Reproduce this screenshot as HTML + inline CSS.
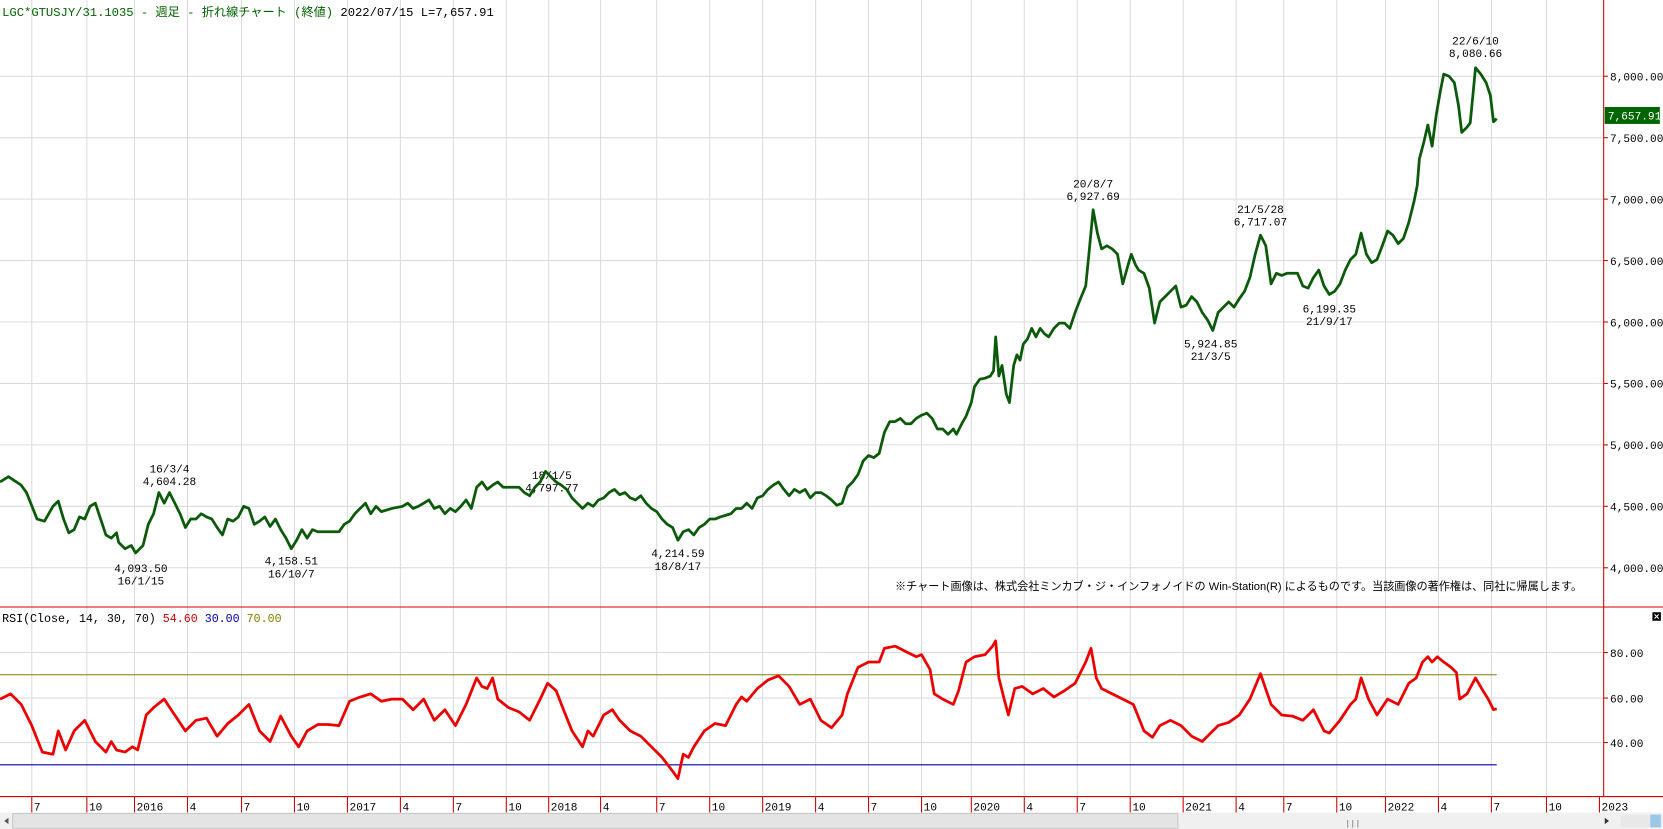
<!DOCTYPE html>
<html><head><meta charset="utf-8"><style>
html,body{margin:0;padding:0;background:#fff;overflow:hidden}
svg{display:block}
text{font-family:"Liberation Mono","Noto Sans CJK JP",monospace;font-size:10.5px}
</style></head><body>
<svg width="1663" height="829" viewBox="0 0 1570 782.6" preserveAspectRatio="none" xmlns="http://www.w3.org/2000/svg">
<rect width="1570" height="783" fill="#fff"/>
<g stroke="#dcdcdc" stroke-width="1">
<line x1="30" y1="0" x2="30" y2="752"/><line x1="82" y1="0" x2="82" y2="752"/><line x1="127" y1="0" x2="127" y2="752"/><line x1="177" y1="0" x2="177" y2="752"/><line x1="228" y1="0" x2="228" y2="752"/><line x1="278" y1="0" x2="278" y2="752"/><line x1="328" y1="0" x2="328" y2="752"/><line x1="378" y1="0" x2="378" y2="752"/><line x1="428" y1="0" x2="428" y2="752"/><line x1="478" y1="0" x2="478" y2="752"/><line x1="518" y1="0" x2="518" y2="752"/><line x1="567" y1="0" x2="567" y2="752"/><line x1="620" y1="0" x2="620" y2="752"/><line x1="670" y1="0" x2="670" y2="752"/><line x1="720" y1="0" x2="720" y2="752"/><line x1="770" y1="0" x2="770" y2="752"/><line x1="820" y1="0" x2="820" y2="752"/><line x1="870" y1="0" x2="870" y2="752"/><line x1="917" y1="0" x2="917" y2="752"/><line x1="967" y1="0" x2="967" y2="752"/><line x1="1017" y1="0" x2="1017" y2="752"/><line x1="1067" y1="0" x2="1067" y2="752"/><line x1="1117" y1="0" x2="1117" y2="752"/><line x1="1167" y1="0" x2="1167" y2="752"/><line x1="1212" y1="0" x2="1212" y2="752"/><line x1="1262" y1="0" x2="1262" y2="752"/><line x1="1308" y1="0" x2="1308" y2="752"/><line x1="1358" y1="0" x2="1358" y2="752"/><line x1="1408" y1="0" x2="1408" y2="752"/><line x1="1460" y1="0" x2="1460" y2="752"/>
<line x1="0" y1="72" x2="1514" y2="72"/><line x1="0" y1="130" x2="1514" y2="130"/><line x1="0" y1="188" x2="1514" y2="188"/><line x1="0" y1="246" x2="1514" y2="246"/><line x1="0" y1="304" x2="1514" y2="304"/><line x1="0" y1="362" x2="1514" y2="362"/><line x1="0" y1="420" x2="1514" y2="420"/><line x1="0" y1="478" x2="1514" y2="478"/><line x1="0" y1="536" x2="1514" y2="536"/>
<line x1="0" y1="616" x2="1514" y2="616"/><line x1="0" y1="659" x2="1514" y2="659"/><line x1="0" y1="701" x2="1514" y2="701"/>
</g>
<g stroke="#d00000" stroke-width="1">
<line x1="0" y1="573" x2="1570" y2="573"/><line x1="0" y1="752" x2="1570" y2="752"/><line x1="1514" y1="0" x2="1514" y2="752"/>
<line x1="30" y1="752" x2="30" y2="767"/><line x1="82" y1="752" x2="82" y2="767"/><line x1="127" y1="752" x2="127" y2="767"/><line x1="177" y1="752" x2="177" y2="767"/><line x1="228" y1="752" x2="228" y2="767"/><line x1="278" y1="752" x2="278" y2="767"/><line x1="328" y1="752" x2="328" y2="767"/><line x1="378" y1="752" x2="378" y2="767"/><line x1="428" y1="752" x2="428" y2="767"/><line x1="478" y1="752" x2="478" y2="767"/><line x1="518" y1="752" x2="518" y2="767"/><line x1="567" y1="752" x2="567" y2="767"/><line x1="620" y1="752" x2="620" y2="767"/><line x1="670" y1="752" x2="670" y2="767"/><line x1="720" y1="752" x2="720" y2="767"/><line x1="770" y1="752" x2="770" y2="767"/><line x1="820" y1="752" x2="820" y2="767"/><line x1="870" y1="752" x2="870" y2="767"/><line x1="917" y1="752" x2="917" y2="767"/><line x1="967" y1="752" x2="967" y2="767"/><line x1="1017" y1="752" x2="1017" y2="767"/><line x1="1067" y1="752" x2="1067" y2="767"/><line x1="1117" y1="752" x2="1117" y2="767"/><line x1="1167" y1="752" x2="1167" y2="767"/><line x1="1212" y1="752" x2="1212" y2="767"/><line x1="1262" y1="752" x2="1262" y2="767"/><line x1="1308" y1="752" x2="1308" y2="767"/><line x1="1358" y1="752" x2="1358" y2="767"/><line x1="1408" y1="752" x2="1408" y2="767"/><line x1="1460" y1="752" x2="1460" y2="767"/><line x1="1510" y1="752" x2="1510" y2="767"/>
<line x1="1514" y1="72" x2="1518" y2="72"/><line x1="1514" y1="130" x2="1518" y2="130"/><line x1="1514" y1="188" x2="1518" y2="188"/><line x1="1514" y1="246" x2="1518" y2="246"/><line x1="1514" y1="304" x2="1518" y2="304"/><line x1="1514" y1="362" x2="1518" y2="362"/><line x1="1514" y1="420" x2="1518" y2="420"/><line x1="1514" y1="478" x2="1518" y2="478"/><line x1="1514" y1="536" x2="1518" y2="536"/><line x1="1514" y1="616" x2="1518" y2="616"/><line x1="1514" y1="659" x2="1518" y2="659"/><line x1="1514" y1="701" x2="1518" y2="701"/>
</g>
<g fill="#000">
<text x="1520" y="76">8,000.00</text><text x="1520" y="134">7,500.00</text><text x="1520" y="192">7,000.00</text><text x="1520" y="250">6,500.00</text><text x="1520" y="308">6,000.00</text><text x="1520" y="366">5,500.00</text><text x="1520" y="424">5,000.00</text><text x="1520" y="482">4,500.00</text><text x="1520" y="540">4,000.00</text>
<text x="1520" y="620">80.00</text><text x="1520" y="663">60.00</text><text x="1520" y="705">40.00</text>
<text x="32" y="765">7</text><text x="84" y="765">10</text><text x="129" y="765">2016</text><text x="179" y="765">4</text><text x="230" y="765">7</text><text x="280" y="765">10</text><text x="330" y="765">2017</text><text x="380" y="765">4</text><text x="430" y="765">7</text><text x="480" y="765">10</text><text x="520" y="765">2018</text><text x="569" y="765">4</text><text x="622" y="765">7</text><text x="672" y="765">10</text><text x="722" y="765">2019</text><text x="772" y="765">4</text><text x="822" y="765">7</text><text x="872" y="765">10</text><text x="919" y="765">2020</text><text x="969" y="765">4</text><text x="1019" y="765">7</text><text x="1069" y="765">10</text><text x="1119" y="765">2021</text><text x="1169" y="765">4</text><text x="1214" y="765">7</text><text x="1264" y="765">10</text><text x="1310" y="765">2022</text><text x="1360" y="765">4</text><text x="1410" y="765">7</text><text x="1462" y="765">10</text><text x="1512" y="765">2023</text>
</g>
<text x="2" y="15" fill="#006400" style="font-size:11.5px">LGC*GTUSJY/31.1035 - 週足 - 折れ線チャート (終値)  <tspan fill="#000">2022/07/15 L=7,657.91</tspan></text>
<text x="2" y="587" fill="#000" style="font-size:11px">RSI(Close, 14, 30, 70) <tspan fill="#d00000">54.60</tspan> <tspan fill="#0000b0">30.00</tspan> <tspan fill="#808000">70.00</tspan></text>
<text x="845" y="557" fill="#000" style="font-family:'Liberation Sans','Noto Sans CJK JP',sans-serif;font-size:10.5px">※チャート画像は、株式会社ミンカブ・ジ・インフォノイドの Win-Station(R) によるものです。当該画像の著作権は、同社に帰属します。</text>
<g fill="#000" text-anchor="middle">
<text x="160" y="446">16/3/4</text><text x="160" y="458">4,604.28</text>
<text x="133" y="540">4,093.50</text><text x="133" y="552">16/1/15</text>
<text x="275" y="533">4,158.51</text><text x="275" y="545">16/10/7</text>
<text x="521" y="452">18/1/5</text><text x="521" y="464">4,797.77</text>
<text x="640" y="526">4,214.59</text><text x="640" y="538">18/8/17</text>
<text x="1032" y="177">20/8/7</text><text x="1032" y="189">6,927.69</text>
<text x="1190" y="201">21/5/28</text><text x="1190" y="213">6,717.07</text>
<text x="1143" y="328">5,924.85</text><text x="1143" y="340">21/3/5</text>
<text x="1255" y="295">6,199.35</text><text x="1255" y="307">21/9/17</text>
<text x="1393" y="42">22/6/10</text><text x="1393" y="54">8,080.66</text>
</g>
<rect x="1515" y="101" width="52" height="16" fill="#006400"/>
<text x="1518" y="113" fill="#fff">7,657.91</text>
<line x1="0" y1="637" x2="1413" y2="637" stroke="#808000" stroke-width="1"/>
<line x1="0" y1="722" x2="1413" y2="722" stroke="#0000b0" stroke-width="1"/>
<polyline fill="none" stroke="#0a5a0a" stroke-width="2.6" stroke-linejoin="round" points="0,455 8,450 20,458 25,465 35,490 42,492 50,478 55,473 60,490 65,503 70,500 75,488 80,490 85,478 90,475 95,490 100,505 105,508 110,503 112,512 118,518 124,515 128,522 135,515 140,495 145,485 150,465 155,475 160,465 165,475 170,485 175,498 180,490 185,490 190,485 195,488 200,490 205,498 210,505 215,490 220,492 225,488 230,478 235,480 240,495 245,492 250,488 255,497 260,490 265,500 270,508 275,518 280,510 285,500 290,508 295,500 300,502 310,502 320,502 325,495 330,492 335,485 340,480 345,475 350,485 355,478 360,483 370,480 380,478 385,475 390,480 395,478 400,475 405,472 410,480 415,478 420,485 425,480 430,483 435,478 440,472 445,480 450,460 455,455 460,462 465,458 470,455 475,460 480,460 490,460 495,465 500,468 505,460 510,455 515,445 520,450 525,455 530,458 535,462 540,470 545,475 550,480 555,475 560,478 565,472 570,470 575,465 580,462 585,467 590,465 595,470 600,472 605,468 610,475 615,480 620,483 625,490 630,495 635,498 640,510 645,502 650,500 655,505 660,498 665,495 670,490 675,490 680,488 690,485 695,480 700,480 705,475 710,480 715,470 720,468 725,462 730,458 735,455 740,462 745,468 750,462 755,465 760,462 765,470 770,465 775,465 780,468 785,472 790,477 795,475 800,460 805,455 810,448 815,435 820,430 825,432 830,428 835,408 840,398 845,398 850,395 855,400 860,400 865,395 870,392 875,390 880,395 885,405 890,405 895,410 900,405 903,410 908,400 912,393 917,380 920,365 925,358 930,357 935,355 938,350 940,318 943,355 946,345 950,372 953,380 957,345 960,335 963,340 966,325 970,320 974,310 978,318 982,310 986,315 990,318 995,310 1000,305 1005,305 1010,310 1015,295 1020,282 1025,270 1028,240 1032,198 1036,220 1040,235 1045,232 1050,235 1055,240 1060,268 1065,250 1068,240 1072,250 1075,255 1080,258 1085,272 1090,305 1095,285 1100,280 1105,275 1110,270 1115,290 1120,288 1125,280 1130,285 1135,295 1140,302 1145,312 1150,295 1155,290 1160,285 1165,290 1170,282 1175,275 1180,262 1185,240 1190,222 1195,232 1200,268 1205,258 1210,260 1215,258 1225,258 1230,270 1235,272 1240,262 1245,255 1250,270 1255,278 1260,275 1265,268 1270,255 1275,245 1280,240 1285,220 1290,240 1295,248 1300,245 1305,232 1310,218 1315,222 1320,230 1325,225 1330,210 1335,190 1338,175 1340,150 1344,135 1348,118 1352,138 1356,108 1360,85 1363,70 1368,72 1373,78 1377,100 1380,125 1385,120 1388,116 1393,64 1398,70 1403,78 1407,90 1410,115 1413,112"/>
<polyline fill="none" stroke="#ee0000" stroke-width="2.6" stroke-linejoin="round" points="0,660 10,655 20,665 30,685 40,710 50,712 55,690 62,708 70,690 80,680 90,700 100,710 105,700 110,708 118,710 125,705 130,708 138,675 145,668 155,660 163,672 175,690 185,680 195,678 205,695 215,683 225,675 235,665 245,690 255,700 265,676 275,695 282,705 290,690 300,684 310,684 320,685 330,662 340,658 350,655 360,662 370,660 380,660 390,670 400,660 410,680 420,670 430,685 440,665 450,640 455,648 460,650 465,640 470,660 480,668 490,672 500,680 510,660 517,645 525,652 530,665 540,690 550,705 555,690 560,695 570,675 578,670 585,680 595,690 605,695 615,705 625,715 635,728 640,735 645,712 650,715 655,705 665,690 675,683 685,685 695,665 700,658 705,662 715,650 725,642 735,638 745,648 755,665 765,660 775,680 785,687 795,675 800,655 810,630 820,625 830,625 835,612 845,610 855,615 865,620 870,618 878,632 882,655 890,660 900,665 905,652 912,625 920,620 930,618 937,610 940,605 943,640 948,660 952,675 958,650 965,648 975,655 985,650 995,658 1000,655 1005,652 1015,645 1025,625 1030,612 1035,640 1040,650 1050,655 1060,660 1070,665 1080,690 1088,696 1095,685 1105,680 1115,685 1125,695 1135,700 1140,695 1150,685 1160,682 1170,675 1180,660 1190,636 1200,665 1210,675 1220,676 1230,680 1240,670 1250,690 1255,692 1265,680 1275,665 1280,660 1285,640 1292,660 1300,675 1310,660 1320,665 1330,645 1337,640 1343,625 1348,620 1352,625 1357,620 1363,625 1370,630 1375,635 1378,660 1385,655 1393,640 1400,652 1405,660 1410,670 1413,669"/>
<rect x="1560" y="578" width="8" height="8" fill="#000"/>
<path d="M1562 580 L1566 584 M1566 580 L1562 584" stroke="#fff" stroke-width="1"/>
<rect x="0" y="767" width="1570" height="16" fill="#f0f0f0"/>
<rect x="12" y="768" width="1100" height="14" fill="#e4e4e4" stroke="#c8c8c8"/>
<text x="1270" y="780" fill="#666" style="font-size:8px">|||</text>
<path d="M4 775 L8 772 L8 778 Z" fill="#555"/>
<path d="M1515 772 L1519 775 L1515 778 Z" fill="#333"/>
<rect x="1530" y="769" width="38" height="12" fill="#e8e8e8"/>
<rect x="1558" y="769" width="10" height="12" fill="#9cc8e8"/>
</svg>
</body></html>
